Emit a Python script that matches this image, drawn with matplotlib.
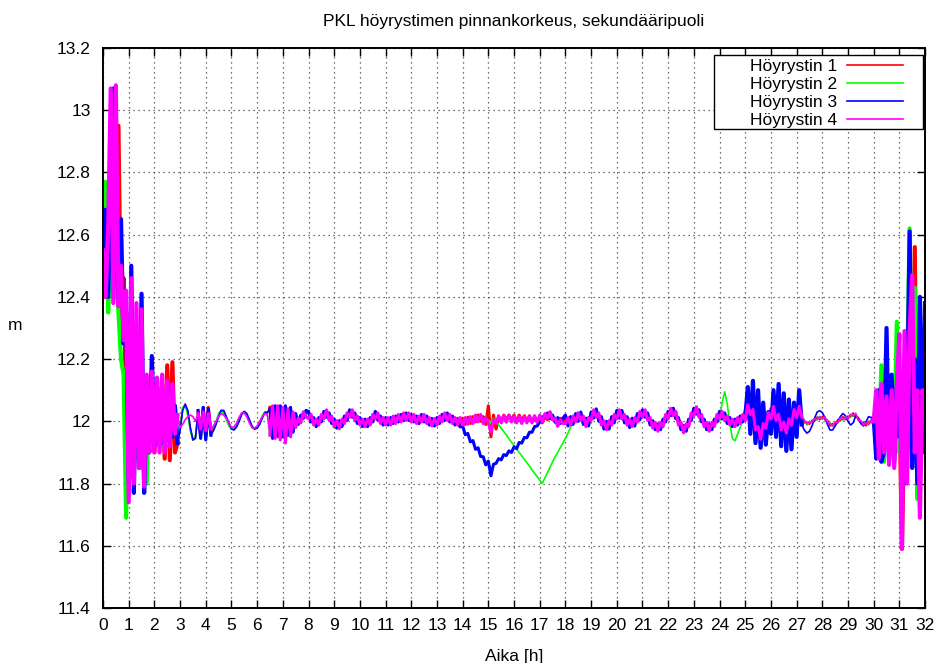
import numpy as np
import matplotlib
matplotlib.use("Agg")
import matplotlib.pyplot as plt
from matplotlib.patches import Rectangle

plt.rcParams['font.family'] = ['Liberation Sans', 'DejaVu Sans']

# sample times, one value every 0.1 h
t = np.linspace(0, 32, 321)

labels = ['Höyrystin 1', 'Höyrystin 2', 'Höyrystin 3', 'Höyrystin 4']
colors = ['#ff0000', '#00ff00', '#0000ff', '#ff00ff']

yticks = [11.4, 11.6, 11.8, 12.0, 12.2, 12.4, 12.6, 12.8, 13.0, 13.2]
ytick_labels = ['11.4', '11.6', '11.8', '12', '12.2', '12.4', '12.6', '12.8', '13', '13.2']
xticks = list(range(0, 33))

# level [m], one row per hour
h1 = [
    12.6, 12.4, 12.7, 12.45, 12.85, 12.4, 12.95, 12.3, 12.46, 12.05,
    11.8, 12.3, 11.9, 12.25, 11.85, 12.2, 11.88, 12.1, 11.95, 12.15,
    11.9, 12.1, 11.92, 12.12, 11.88, 12.18, 11.875, 12.19, 11.9, 11.93,
    11.975, 12.04, 12.055, 12.03, 11.975, 11.94, 11.95, 12.03, 11.955, 12.045,
    11.95, 12.045, 11.96, 11.975, 11.995, 12.02, 12.035, 12.03, 12.01, 11.99,
    11.978, 11.975, 11.985, 12.005, 12.025, 12.03, 12.02, 12.0, 11.98, 11.975,
    11.98, 11.995, 12.015, 12.03, 12.025, 12.045, 11.955, 12.045, 11.95, 12.04,
    11.95, 12.04, 11.96, 12.035, 11.975, 12.02, 11.995, 12.015, 12.01, 12.03,
    12.03, 12.0, 12.01, 11.985, 12.01, 12.0, 12.03, 12.015, 12.025, 11.995,
    12.005, 11.98, 12.0, 11.985, 12.015, 12.005, 12.035, 12.015, 12.025, 11.995,
    12.01, 11.985, 12.005, 11.985, 12.01, 12.0, 12.03, 12.005, 12.015, 11.99,
    12.01, 11.99, 12.01, 11.995, 12.015, 12.0, 12.02, 12.005, 12.025, 12.005,
    12.02, 12.0, 12.015, 11.995, 12.02, 12.0, 12.015, 11.99, 12.007, 11.987,
    12.01, 11.995, 12.02, 12.005, 12.025, 12.0, 12.015, 11.99, 12.01, 11.99,
    12.01, 11.99, 12.013, 11.993, 12.015, 11.998, 12.02, 12.0, 12.015, 11.99,
    12.05, 11.95, 12.02, 11.975, 12.015, 12.0, 12.02, 12.005, 12.02, 12.005,
    12.02, 12.0, 12.02, 12.002, 12.018, 12.0, 12.018, 11.998, 12.015, 11.997,
    12.012, 11.995, 12.02, 12.005, 12.03, 12.005, 12.01, 11.985, 12.01, 11.995,
    12.015, 11.99, 12.01, 11.995, 12.02, 12.005, 12.025, 11.995, 12.005, 11.99,
    12.025, 12.015, 12.035, 12.005, 12.01, 11.98, 11.995, 11.98, 12.01, 12.0,
    12.03, 12.015, 12.03, 12.0, 12.01, 11.985, 12.005, 11.99, 12.02, 12.01,
    12.035, 12.015, 12.025, 11.99, 12.0, 11.975, 11.99, 11.975, 12.005, 12.0,
    12.03, 12.02, 12.04, 12.01, 12.01, 11.975, 11.985, 11.97, 12.005, 12.005,
    12.04, 12.025, 12.035, 12.0, 12.005, 11.975, 11.99, 11.975, 12.005, 12.0,
    12.03, 12.01, 12.025, 11.995, 12.01, 11.985, 12.005, 11.99, 12.015, 12.0,
    12.035, 12.02, 12.055, 12.0, 12.005, 11.95, 11.975, 11.96, 12.01, 11.995,
    12.04, 12.015, 12.035, 11.99, 12.005, 11.965, 11.995, 11.975, 12.02, 12.005,
    12.045, 12.02, 12.01, 11.995, 11.998, 11.99, 12.004, 12.0, 12.014, 12.005,
    12.016, 12.006, 12.004, 11.985, 11.993, 11.988, 12.005, 12.002, 12.015, 12.005,
    12.017, 12.014, 12.027, 12.012, 12.013, 11.993, 11.997, 11.985, 12.0, 11.995,
    12.005, 12.03, 11.93, 12.08, 11.9, 12.2, 11.92, 12.1, 11.88, 12.15,
    12.1, 11.59, 12.05, 11.85, 12.2, 11.9, 12.56, 11.8, 12.15, 11.95,
    12.0,
]

h2 = [
    12.45, 12.77, 12.35, 12.6, 12.4, 12.5, 12.35, 12.2, 12.15, 11.69,
    12.3, 11.82, 12.2, 11.88, 12.12, 11.85, 12.1, 11.8, 12.12, 11.95,
    12.1, 11.93, 12.08, 11.92, 12.1, 11.93, 12.07, 11.95, 12.04, 11.94,
    11.98, 12.045, 12.05, 12.02, 11.97, 11.94, 11.955, 12.0, 11.97, 12.03,
    11.97, 12.02, 11.975, 11.98, 12.0, 12.025, 12.035, 12.025, 12.005, 11.985,
    11.975, 11.978, 11.99, 12.01, 12.028, 12.03, 12.018, 11.998, 11.98, 11.975,
    11.98, 11.997, 12.017, 12.03, 12.02, 11.96, 12.04, 11.955, 12.04, 11.955,
    12.035, 11.955, 12.04, 11.97, 12.025, 11.99, 12.01, 12.0, 12.03, 12.015,
    12.012, 12.018, 11.992, 12.003, 11.992, 12.018, 12.012, 12.033, 12.007, 12.013,
    11.982, 11.99, 11.975, 11.995, 11.997, 12.023, 12.017, 12.033, 12.007, 12.013,
    11.992, 12.003, 11.987, 12.003, 11.992, 12.018, 12.012, 12.023, 11.997, 12.008,
    11.992, 12.008, 11.992, 12.013, 11.997, 12.018, 12.002, 12.023, 12.007, 12.023,
    12.002, 12.018, 11.997, 12.013, 12.002, 12.018, 11.997, 12.008, 11.989, 12.005,
    11.992, 12.013, 12.002, 12.023, 12.007, 12.018, 11.997, 12.008, 11.992, 12.008,
    11.992, 12.008, 11.995, 12.011, 11.997, 12.016, 12.002, 12.018, 11.997, 12.008,
    12.0, 11.995, 12.005, 12.0, 11.989, 11.978, 11.967, 11.956, 11.944, 11.933,
    11.922, 11.911, 11.9, 11.889, 11.878, 11.867, 11.856, 11.844, 11.833, 11.822,
    11.811, 11.80, 11.818, 11.835, 11.852, 11.87, 11.886, 11.9, 11.915, 11.93,
    11.945, 11.962, 11.98, 11.997, 12.014, 12.03, 12.01, 11.995, 12.0, 12.012,
    12.007, 12.033, 12.017, 12.023, 11.992, 11.998, 11.977, 11.998, 11.992, 12.018,
    12.012, 12.033, 12.012, 12.018, 11.992, 12.003, 11.987, 12.008, 12.002, 12.028,
    12.017, 12.033, 12.007, 12.008, 11.982, 11.993, 11.972, 11.993, 11.987, 12.018,
    12.012, 12.038, 12.022, 12.028, 11.992, 11.993, 11.967, 11.988, 11.987, 12.023,
    12.022, 12.043, 12.017, 12.018, 11.987, 11.993, 11.972, 11.993, 11.987, 12.018,
    12.005, 12.06, 12.095, 12.055, 11.995, 11.945, 11.937, 11.958, 11.98, 12.0,
    12.02, 12.05, 12.03, 12.035, 11.98, 11.975, 11.945, 11.985, 11.98, 12.02,
    12.01, 12.045, 12.005, 12.02, 11.975, 11.995, 11.965, 12.005, 11.99, 12.035,
    12.02, 12.035, 12.005, 12.006, 11.988, 12.0, 11.994, 12.01, 12.004, 12.016,
    12.006, 12.015, 11.994, 11.995, 11.983, 11.999, 11.994, 12.012, 12.003, 12.015,
    12.006, 12.023, 12.015, 12.026, 12.003, 12.003, 11.986, 11.997, 11.988, 12.006,
    12.0, 12.05, 11.92, 12.18, 11.87, 12.08, 11.9, 12.12, 11.93, 12.32,
    11.9, 12.1, 11.8, 12.15, 12.62, 11.95, 12.43, 11.75, 12.05, 12.0,
    12.03,
]

h3 = [
    12.45, 12.68, 12.4, 12.7, 13.07, 12.5, 12.4, 12.65, 12.25, 12.35,
    11.8, 12.5, 11.77, 12.2, 11.95, 12.41, 11.77, 12.05, 11.9, 12.21,
    11.92, 11.95, 12.1, 11.93, 12.08, 11.94, 12.1, 11.95, 12.05, 11.93,
    11.97, 12.035, 12.055, 12.035, 11.98, 11.94, 11.945, 12.035, 11.945, 12.045,
    11.94, 12.04, 11.955, 11.97, 11.99, 12.015, 12.035, 12.035, 12.015, 11.995,
    11.975, 11.972, 11.982, 12.0, 12.022, 12.032, 12.025, 12.005, 11.985, 11.975,
    11.978, 11.99, 12.01, 12.028, 12.03, 12.04, 11.945, 12.05, 11.955, 12.05,
    11.95, 12.05, 11.955, 12.045, 11.965, 12.025, 11.99, 12.02, 12.01, 12.035,
    12.032, 11.998, 12.012, 11.983, 12.012, 11.998, 12.032, 12.013, 12.027, 11.993,
    12.007, 11.978, 12.002, 11.983, 12.017, 12.003, 12.037, 12.013, 12.027, 11.993,
    12.012, 11.983, 12.007, 11.983, 12.012, 11.998, 12.032, 12.003, 12.017, 11.988,
    12.012, 11.988, 12.012, 11.993, 12.017, 11.998, 12.022, 12.003, 12.027, 12.003,
    12.022, 11.998, 12.017, 11.993, 12.022, 11.998, 12.017, 11.988, 12.009, 11.985,
    12.012, 11.993, 12.022, 12.003, 12.027, 11.998, 12.017, 11.988, 11.998, 11.982,
    11.985, 11.957, 11.961, 11.934, 11.938, 11.91, 11.915, 11.887, 11.886, 11.86,
    11.872, 11.825, 11.862, 11.865, 11.88, 11.876, 11.893, 11.89, 11.905, 11.9,
    11.918, 11.912, 11.932, 11.93, 11.948, 11.947, 11.965, 11.965, 11.983, 11.985,
    11.998, 12.015, 12.01, 12.027, 12.008, 12.02, 11.997, 12.012, 11.993, 12.01,
    12.02, 11.985, 12.015, 11.99, 12.025, 12.0, 12.03, 11.99, 12.01, 11.985,
    12.03, 12.01, 12.04, 12.0, 12.015, 11.975, 12.0, 11.975, 12.015, 11.995,
    12.035, 12.01, 12.035, 11.995, 12.015, 11.98, 12.01, 11.985, 12.025, 12.005,
    12.037, 12.013, 12.027, 11.988, 12.002, 11.973, 11.992, 11.973, 12.007, 11.998,
    12.032, 12.018, 12.042, 12.008, 12.012, 11.973, 11.987, 11.968, 12.007, 12.003,
    12.042, 12.023, 12.037, 11.998, 12.007, 11.973, 11.992, 11.973, 12.007, 11.998,
    12.032, 12.008, 12.027, 11.993, 12.012, 11.983, 12.007, 11.988, 12.017, 11.998,
    12.01, 12.11, 11.96, 12.13, 11.93, 12.1, 11.915, 12.06, 11.925, 12.03,
    11.96, 12.1, 11.95, 12.12, 11.92, 12.09, 11.905, 12.07, 11.91, 12.06,
    11.95, 12.1, 11.99, 11.972, 11.962, 11.968, 11.985, 12.01, 12.03, 12.034,
    12.028, 12.012, 11.99, 11.972, 11.972, 11.985, 12.0, 12.015, 12.025, 12.018,
    12.0, 11.988, 11.995, 12.018, 12.01, 11.993, 11.985, 11.998, 12.015, 12.012,
    12.01, 11.88, 12.1, 11.87, 11.9, 12.3, 11.88, 12.15, 11.87, 12.12,
    11.95, 12.1, 11.8, 12.05, 12.61, 11.85, 12.2, 11.8, 12.4, 11.9,
    12.38,
]

h4 = [
    12.55, 12.4, 12.62, 13.07, 12.38, 13.08, 12.37, 12.5, 12.26, 12.42,
    11.74, 12.46, 11.8, 12.38, 11.85, 12.36, 11.79, 12.15, 11.9, 12.16,
    11.9, 12.14, 11.9, 12.15, 11.9, 12.13, 11.92, 12.12, 11.96, 12.02,
    11.98, 11.99, 12.005, 12.015, 12.02, 12.015, 12.0, 12.025, 11.975, 12.03,
    11.97, 12.025, 11.975, 11.985, 12.0, 12.015, 12.025, 12.02, 12.01, 11.995,
    11.98, 11.982, 11.995, 12.013, 12.027, 12.027, 12.013, 11.995, 11.98, 11.978,
    11.985, 12.0, 12.015, 12.025, 12.02, 11.955, 12.05, 11.945, 12.05, 11.94,
    12.045, 11.93, 12.04, 11.95, 12.03, 11.98, 12.01, 11.995, 12.03, 12.015,
    12.008, 12.022, 11.988, 12.007, 11.988, 12.022, 12.008, 12.037, 12.003, 12.017,
    11.983, 12.002, 11.978, 12.007, 11.993, 12.027, 12.013, 12.037, 12.003, 12.017,
    11.988, 12.007, 11.983, 12.007, 11.988, 12.022, 12.008, 12.027, 11.993, 12.012,
    11.988, 12.012, 11.988, 12.017, 11.993, 12.022, 11.998, 12.027, 12.003, 12.027,
    11.998, 12.022, 11.993, 12.017, 11.998, 12.022, 11.993, 12.012, 11.985, 12.009,
    11.988, 12.017, 11.998, 12.027, 12.003, 12.022, 11.993, 12.012, 11.988, 12.012,
    11.988, 12.012, 11.991, 12.015, 11.993, 12.02, 11.998, 12.022, 11.993, 12.012,
    11.995, 11.965, 12.005, 11.993, 12.018, 11.995, 12.018, 11.997, 12.02, 11.998,
    12.017, 11.995, 12.015, 11.993, 12.015, 11.995, 12.017, 11.995, 12.018, 11.997,
    12.02, 11.998, 12.025, 12.01, 12.03, 12.005, 12.01, 11.985, 12.005, 11.993,
    11.993, 12.012, 11.988, 12.017, 11.998, 12.027, 12.003, 12.017, 11.983, 12.012,
    12.003, 12.037, 12.013, 12.027, 11.988, 12.002, 11.973, 12.002, 11.988, 12.022,
    12.008, 12.037, 12.008, 12.022, 11.988, 12.007, 11.983, 12.012, 11.998, 12.032,
    12.013, 12.037, 12.003, 12.012, 11.978, 11.997, 11.968, 11.997, 11.983, 12.022,
    12.008, 12.042, 12.018, 12.032, 11.988, 11.997, 11.963, 11.992, 11.983, 12.027,
    12.018, 12.047, 12.013, 12.022, 11.983, 11.997, 11.968, 11.997, 11.983, 12.022,
    12.008, 12.032, 12.003, 12.017, 11.988, 12.007, 11.983, 12.012, 11.993, 12.022,
    12.002, 12.053, 12.022, 12.038, 11.972, 11.983, 11.942, 11.993, 11.977, 12.028,
    12.007, 12.048, 12.002, 12.023, 11.972, 11.998, 11.962, 12.008, 11.987, 12.038,
    12.012, 12.048, 12.015, 12.003, 11.992, 11.998, 11.997, 12.008, 12.006, 12.015,
    12.008, 12.014, 11.997, 11.993, 11.985, 11.997, 11.996, 12.011, 12.006, 12.014,
    12.008, 12.022, 12.018, 12.025, 12.004, 12.002, 11.988, 11.995, 11.99, 12.004,
    12.0, 12.1, 11.88, 12.12, 11.9, 12.08, 11.86, 12.1, 11.85, 12.12,
    12.28, 11.59, 12.29, 11.8, 12.3, 12.47, 11.9, 12.1, 11.69, 12.1,
    12.02,
]

# stretches [h] where the signal is noisy and drawn with a heavier stroke
noisy_common = [(3.65, 4.25), (6.45, 27.25)]
noisy_h2 = [(3.65, 4.25), (6.45, 15.25), (18.6, 24.0), (25.0, 27.25)]
noisy = [noisy_common, noisy_h2, noisy_common, noisy_common]
# start-up and shut-down transients, heaviest stroke
dense_common = [(0, 2.95), (29.95, 32)]
dense_h3 = [(0, 2.95), (25.0, 27.2), (29.95, 32)]
dense = [dense_common, dense_common, dense_h3, dense_common]


def span_mask(spans):
    keep = np.zeros(len(t), dtype=bool)
    for a, b in spans:
        keep |= (t >= a - 1e-9) & (t <= b + 1e-9)
    return keep


def main():
    fig = plt.figure(figsize=(9.4, 6.63), dpi=100)
    ax = fig.add_axes([0.1096, 0.0830, 0.8745, 0.8446])

    for y, c, lab, sp1, sp2 in zip([h1, h2, h3, h4], colors, labels, noisy, dense):
        y = np.asarray(y)
        ax.plot(t, y, color=c, lw=1.2, label=lab)
        ax.plot(t, np.where(span_mask(sp1), y, np.nan), color=c, lw=2.2)
        ax.plot(t, np.where(span_mask(sp2), y, np.nan), color=c, lw=3.0)

    ax.set_xlim(0, 32)
    ax.set_ylim(11.4, 13.2)
    ax.set_xticks(xticks)
    ax.set_yticks(yticks)
    ax.set_yticklabels(ytick_labels)

    ax.tick_params(direction='in', length=5.8, width=1.0, labelsize=12.5,
                   top=True, right=True)
    ax.tick_params(axis='x', pad=7.3)
    ax.tick_params(axis='y', pad=8.8)
    for s in ax.spines.values():
        s.set_linewidth(1.4)

    ax.set_axisbelow(True)
    ax.grid(True, color='#444444', lw=0.9, linestyle=(0, (1, 3)))

    # key box
    ax.add_patch(Rectangle((0.7433, 0.8554), 0.2543, 0.1321, transform=ax.transAxes,
                           facecolor='white', edgecolor='black', lw=1.0, zorder=5))
    leg = ax.legend(loc='upper right', bbox_to_anchor=(0.975, 0.984), frameon=False,
                    markerfirst=False, fontsize=12.5, handlelength=3.2,
                    handletextpad=0.6, labelspacing=0.17, borderpad=0.1,
                    borderaxespad=0)
    leg.set_zorder(6)

    fig.text(514 / 940, 1 - 26 / 663, 'PKL höyrystimen pinnankorkeus, sekundääripuoli',
             ha='center', va='baseline', fontsize=12.5)
    fig.text(514 / 940, 1 - 661.5 / 663, 'Aika [h]', ha='center', va='baseline', fontsize=12.5)
    fig.text(15 / 940, 1 - 330.5 / 663, 'm', ha='center', va='baseline', fontsize=12.5)

    plt.savefig('out.png', dpi=100)


if __name__ == "__main__":
    main()
